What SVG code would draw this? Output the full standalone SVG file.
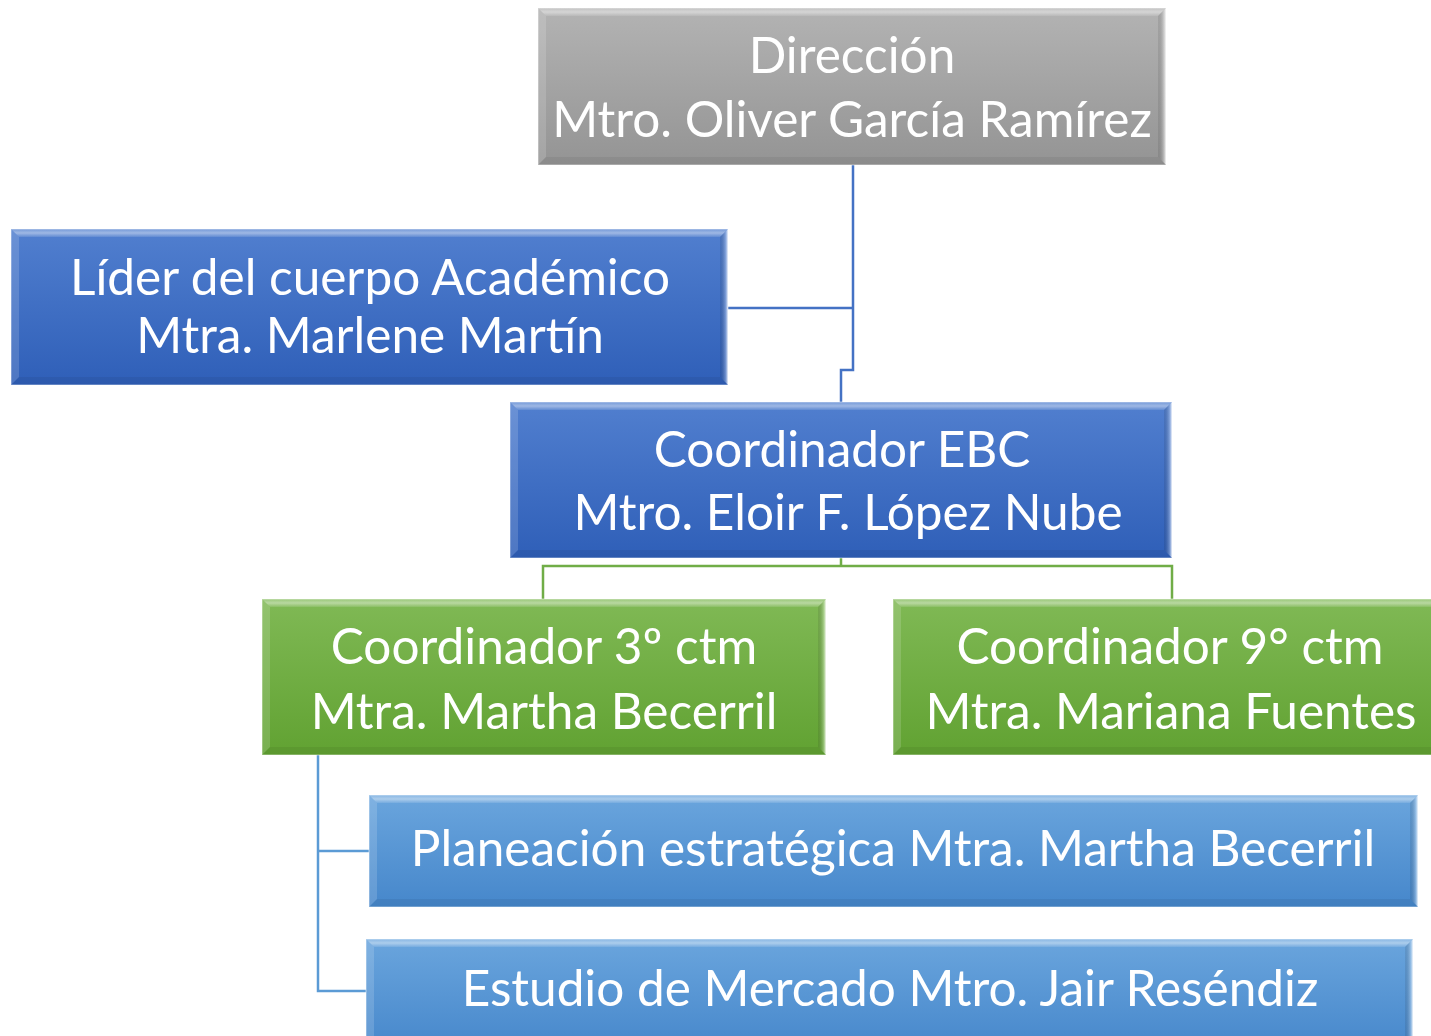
<svg xmlns="http://www.w3.org/2000/svg" width="1431" height="1036" viewBox="0 0 1431 1036">
<defs>
<linearGradient id="gGray" x1="0" y1="0" x2="0" y2="1"><stop offset="0" stop-color="#b3b3b3"/><stop offset="1" stop-color="#949494"/></linearGradient>
<linearGradient id="gBlue" x1="0" y1="0" x2="0" y2="1"><stop offset="0" stop-color="#517fcf"/><stop offset="1" stop-color="#2f5fb8"/></linearGradient>
<linearGradient id="gGreen" x1="0" y1="0" x2="0" y2="1"><stop offset="0" stop-color="#80b955"/><stop offset="1" stop-color="#61a232"/></linearGradient>
<linearGradient id="gLight" x1="0" y1="0" x2="0" y2="1"><stop offset="0" stop-color="#6aa5dd"/><stop offset="1" stop-color="#4687cb"/></linearGradient>
<linearGradient id="bevTop" x1="0" y1="0" x2="0" y2="1"><stop offset="0" stop-color="#fff" stop-opacity="0.2"/><stop offset="0.5" stop-color="#fff" stop-opacity="0.45"/><stop offset="1" stop-color="#fff" stop-opacity="0.1"/></linearGradient>
<linearGradient id="bevRight" x1="0" y1="0" x2="1" y2="0"><stop offset="0" stop-color="#000" stop-opacity="0.08"/><stop offset="0.7" stop-color="#fff" stop-opacity="0.3"/><stop offset="1" stop-color="#fff" stop-opacity="0.8"/></linearGradient>
</defs>
<style>
.t{font-family:Lato,"Noto Sans","Liberation Sans",sans-serif;font-size:49.5px;fill:#fff;text-anchor:middle}
.c{fill:none;stroke-width:2.5}
.cb{stroke:#4472c4}.cg{stroke:#70ad47}.cl{stroke:#5b9bd5}
.edge{fill:none;stroke:#fff;stroke-opacity:0.35;stroke-width:1.5}
</style>
<g id="connectors">
<polyline class="c cb" points="853,165 853,370 841,370 841,402"/>
<polyline class="c cb" points="728,308 853,308"/>
<polyline class="c cg" points="841,558 841,566"/>
<polyline class="c cg" points="543,599 543,566 1172,566 1172,599"/>
<polyline class="c cl" points="318,755 318,991 366,991"/>
<polyline class="c cl" points="318,851 369,851"/>
</g>
<g id="direccion">
<rect x="538" y="8" width="628" height="157" fill="url(#gGray)"/>
<polygon points="538,8 1166,8 1158,16 546,16" fill="url(#bevTop)"/>
<polygon points="538,8 546,16 546,157 538,165" fill="#fff" fill-opacity="0.15"/>
<polygon points="1166,8 1166,165 1158,157 1158,16" fill="url(#bevRight)"/>
<polygon points="538,165 1166,165 1158,157 546,157" fill="#000" fill-opacity="0.06"/>
<rect x="538" y="8" width="628" height="157" class="edge"/>
<text class="t" x="852" y="73">Dirección</text>
<text class="t" x="852" y="137">Mtro. Oliver García Ramírez</text>
</g>
<g id="lider">
<rect x="11" y="229" width="717" height="156" fill="url(#gBlue)"/>
<polygon points="11,229 728,229 720,237 19,237" fill="url(#bevTop)"/>
<polygon points="11,229 19,237 19,377 11,385" fill="#fff" fill-opacity="0.15"/>
<polygon points="728,229 728,385 720,377 720,237" fill="url(#bevRight)"/>
<polygon points="11,385 728,385 720,377 19,377" fill="#000" fill-opacity="0.06"/>
<rect x="11" y="229" width="717" height="156" class="edge"/>
<text class="t" x="370" y="295">Líder del cuerpo Académico</text>
<text class="t" x="370" y="353">Mtra. Marlene Martín</text>
</g>
<g id="ebc">
<rect x="510" y="402" width="662" height="156" fill="url(#gBlue)"/>
<polygon points="510,402 1172,402 1164,410 518,410" fill="url(#bevTop)"/>
<polygon points="510,402 518,410 518,550 510,558" fill="#fff" fill-opacity="0.15"/>
<polygon points="1172,402 1172,558 1164,550 1164,410" fill="url(#bevRight)"/>
<polygon points="510,558 1172,558 1164,550 518,550" fill="#000" fill-opacity="0.06"/>
<rect x="510" y="402" width="662" height="156" class="edge"/>
<text class="t" x="842" y="467">Coordinador EBC</text>
<text class="t" x="848" y="530">Mtro. Eloir F. López Nube</text>
</g>
<g id="ctm3">
<rect x="262" y="599" width="564" height="156" fill="url(#gGreen)"/>
<polygon points="262,599 826,599 818,607 270,607" fill="url(#bevTop)"/>
<polygon points="262,599 270,607 270,747 262,755" fill="#fff" fill-opacity="0.15"/>
<polygon points="826,599 826,755 818,747 818,607" fill="url(#bevRight)"/>
<polygon points="262,755 826,755 818,747 270,747" fill="#000" fill-opacity="0.06"/>
<rect x="262" y="599" width="564" height="156" class="edge"/>
<text class="t" x="544" y="664">Coordinador 3º ctm</text>
<text class="t" x="544" y="729">Mtra. Martha Becerril</text>
</g>
<g id="ctm9">
<rect x="893" y="599" width="556" height="156" fill="url(#gGreen)"/>
<polygon points="893,599 1449,599 1441,607 901,607" fill="url(#bevTop)"/>
<polygon points="893,599 901,607 901,747 893,755" fill="#fff" fill-opacity="0.15"/>
<polygon points="893,755 1449,755 1441,747 901,747" fill="#000" fill-opacity="0.06"/>
<rect x="893" y="599" width="556" height="156" class="edge"/>
<text class="t" x="1170" y="664">Coordinador 9° ctm</text>
<text class="t" x="1171" y="729">Mtra. Mariana Fuentes</text>
</g>
<g id="planeacion">
<rect x="369" y="795" width="1049" height="112" fill="url(#gLight)"/>
<polygon points="369,795 1418,795 1410,803 377,803" fill="url(#bevTop)"/>
<polygon points="369,795 377,803 377,899 369,907" fill="#fff" fill-opacity="0.15"/>
<polygon points="1418,795 1418,907 1410,899 1410,803" fill="url(#bevRight)"/>
<polygon points="369,907 1418,907 1410,899 377,899" fill="#000" fill-opacity="0.06"/>
<rect x="369" y="795" width="1049" height="112" class="edge"/>
<text class="t" x="893" y="866">Planeación estratégica Mtra. Martha Becerril</text>
</g>
<g id="estudio">
<rect x="366" y="939" width="1047" height="112" fill="url(#gLight)"/>
<polygon points="366,939 1413,939 1405,947 374,947" fill="url(#bevTop)"/>
<polygon points="366,939 374,947 374,1043 366,1051" fill="#fff" fill-opacity="0.15"/>
<polygon points="1413,939 1413,1051 1405,1043 1405,947" fill="url(#bevRight)"/>
<rect x="366" y="939" width="1047" height="112" class="edge"/>
<text class="t" x="890" y="1006">Estudio de Mercado Mtro. Jair Reséndiz</text>
</g>
</svg>
